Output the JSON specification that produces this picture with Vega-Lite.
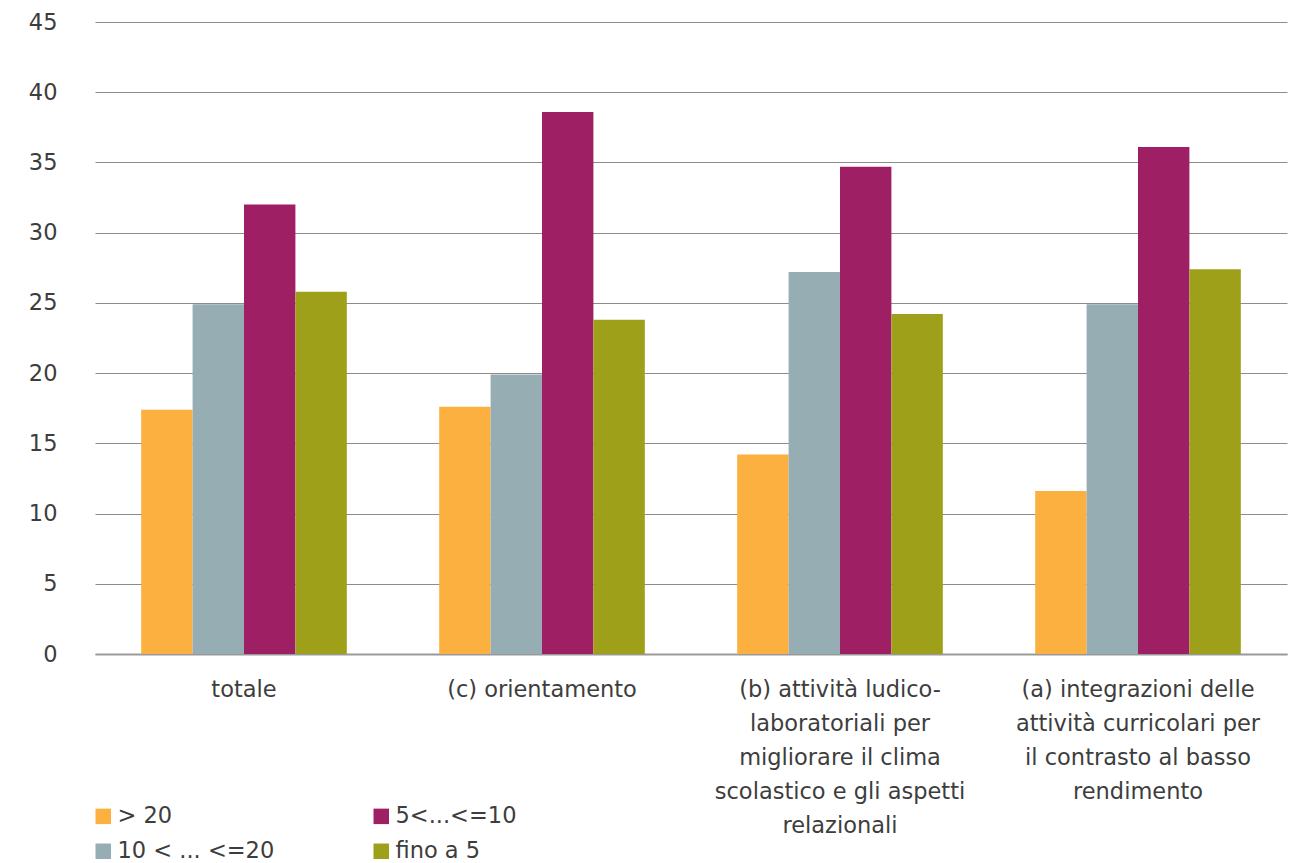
{
  "$schema": "https://vega.github.io/schema/vega-lite/v6.json",
  "width": 1192,
  "height": 632,
  "autosize": "none",
  "padding": {"left": 95, "top": 22, "right": 17, "bottom": 209},
  "background": "white",
  "config": {
    "font": "DejaVu Sans",
    "view": {"stroke": null},
    "axis": {"labelFont": "DejaVu Sans", "labelColor": "#3d3d3d", "labelFontSize": 22.5},
    "legend": {"labelFont": "DejaVu Sans", "labelColor": "#3d3d3d"}
  },
  "data": {
    "values": [
      {"categoria": "totale", "fascia": "> 20", "valore": 17.4},
      {"categoria": "totale", "fascia": "10 < ... <=20", "valore": 24.9},
      {"categoria": "totale", "fascia": "5<...<=10", "valore": 32.0},
      {"categoria": "totale", "fascia": "fino a 5", "valore": 25.8},
      {"categoria": "(c) orientamento", "fascia": "> 20", "valore": 17.6},
      {"categoria": "(c) orientamento", "fascia": "10 < ... <=20", "valore": 19.9},
      {"categoria": "(c) orientamento", "fascia": "5<...<=10", "valore": 38.6},
      {"categoria": "(c) orientamento", "fascia": "fino a 5", "valore": 23.8},
      {"categoria": "(b) attività ludico-|laboratoriali per|migliorare il clima|scolastico e gli aspetti|relazionali", "fascia": "> 20", "valore": 14.2},
      {"categoria": "(b) attività ludico-|laboratoriali per|migliorare il clima|scolastico e gli aspetti|relazionali", "fascia": "10 < ... <=20", "valore": 27.2},
      {"categoria": "(b) attività ludico-|laboratoriali per|migliorare il clima|scolastico e gli aspetti|relazionali", "fascia": "5<...<=10", "valore": 34.7},
      {"categoria": "(b) attività ludico-|laboratoriali per|migliorare il clima|scolastico e gli aspetti|relazionali", "fascia": "fino a 5", "valore": 24.2},
      {"categoria": "(a) integrazioni delle|attività curricolari per|il contrasto al basso|rendimento", "fascia": "> 20", "valore": 11.6},
      {"categoria": "(a) integrazioni delle|attività curricolari per|il contrasto al basso|rendimento", "fascia": "10 < ... <=20", "valore": 24.9},
      {"categoria": "(a) integrazioni delle|attività curricolari per|il contrasto al basso|rendimento", "fascia": "5<...<=10", "valore": 36.1},
      {"categoria": "(a) integrazioni delle|attività curricolari per|il contrasto al basso|rendimento", "fascia": "fino a 5", "valore": 27.4}
    ]
  },
  "mark": {"type": "bar"},
  "encoding": {
    "x": {
      "field": "categoria",
      "type": "nominal",
      "sort": null,
      "scale": {"paddingInner": 0.31, "paddingOuter": 0.155},
      "axis": {
        "title": null,
        "labelAngle": 0,
        "ticks": false,
        "labelPadding": 24,
        "labelLineHeight": 34,
        "labelBaseline": "top",
        "labelLimit": 0,
        "labelExpr": "split(datum.label, '|')",
        "domainColor": "#9a9a9a",
        "domainWidth": 2
      }
    },
    "xOffset": {
      "field": "fascia",
      "type": "nominal",
      "sort": ["> 20", "10 < ... <=20", "5<...<=10", "fino a 5"],
      "scale": {"paddingInner": 0, "paddingOuter": 0}
    },
    "y": {
      "field": "valore",
      "type": "quantitative",
      "scale": {"domain": [0, 45], "nice": false},
      "axis": {
        "title": null,
        "values": [0, 5, 10, 15, 20, 25, 30, 35, 40, 45],
        "ticks": false,
        "domain": false,
        "labelPadding": 38,
        "gridColor": "#8c8c8c",
        "gridWidth": 1.2,
        "gridOpacity": 1
      }
    },
    "color": {
      "field": "fascia",
      "type": "nominal",
      "scale": {
        "domain": ["> 20", "5<...<=10", "10 < ... <=20", "fino a 5"],
        "range": ["#FBB040", "#9E1F63", "#96ADB3", "#9FA01A"]
      },
      "legend": {
        "title": null,
        "orient": "none",
        "legendX": -3,
        "legendY": 783,
        "direction": "horizontal",
        "columns": 2,
        "columnPadding": 95,
        "rowPadding": 12,
        "symbolType": "square",
        "symbolSize": 240,
        "symbolStrokeWidth": 0,
        "symbolOffset": 0,
        "labelOffset": 3,
        "labelFontSize": 22.5,
        "labelLimit": 0
      }
    }
  }
}
